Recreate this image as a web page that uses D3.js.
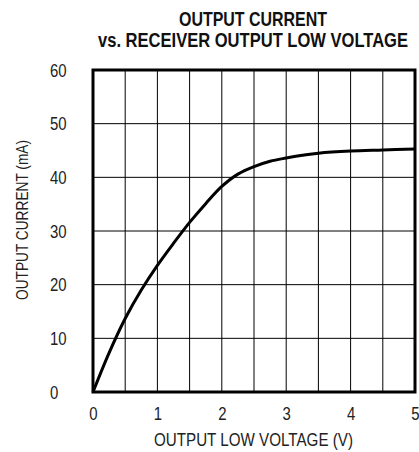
<!DOCTYPE html>
<html>
<head>
<meta charset="utf-8">
<script src="https://cdn.jsdelivr.net/npm/d3@7"></script>
<style>
  html, body { margin: 0; padding: 0; background: #fff; }
  svg { display: block; font-family: "Liberation Sans Narrow", "Arial Narrow", "Liberation Sans", sans-serif; }
  .grid line { stroke: #000; stroke-width: 1; }
  .tick text { font-size: 18px; fill: #222; }
</style>
</head>
<body>
<div id="chart"></div>
<script>
// datos (V, mA)
const voltaje = [0, 0.25, 0.5, 0.75, 1, 1.25, 1.5, 1.75, 2, 2.25, 2.5, 2.75, 3, 3.25, 3.5, 4, 4.5, 5];
const corriente = [0, 7.3, 13.7, 19, 23.6, 27.7, 31.6, 35.1, 38.3, 40.6, 42.0, 43.0, 43.6, 44.1, 44.5, 44.9, 45.1, 45.3];
const xTicks = [0, 1, 2, 3, 4, 5];
const yTicks = [0, 10, 20, 30, 40, 50, 60];
const xGrid = [0.5, 1, 1.5, 2, 2.5, 3, 3.5, 4, 4.5];
const yGrid = [10, 20, 30, 40, 50];
const titulo = ["OUTPUT CURRENT", "vs. RECEIVER OUTPUT LOW VOLTAGE"];

const W = 419, H = 452;
const margin = { top: 70, right: 4, bottom: 60, left: 93 };
const width = W - margin.left - margin.right;
const height = H - margin.top - margin.bottom;

// no hay fuente estrecha: se comprime el texto con textLength
const digito = 8.3;

const svgEl = d3.select("#chart").append("svg").attr("width", W).attr("height", H);
const svg = svgEl.append("g").attr("transform", `translate(${margin.left},${margin.top})`);

const x = d3.scaleLinear().domain([0, 5]).range([0, width]);
const y = d3.scaleLinear().domain([0, 60]).range([height, 0]);

// rejilla
const grid = svg.append("g").attr("class", "grid");
grid.selectAll(".v").data(xGrid).enter().append("line")
  .attr("x1", d => x(d)).attr("x2", d => x(d)).attr("y1", 0).attr("y2", height);
grid.selectAll(".h").data(yGrid).enter().append("line")
  .attr("y1", d => y(d)).attr("y2", d => y(d)).attr("x1", 0).attr("x2", width);

// ejes (solo etiquetas)
const xAxis = svg.append("g").attr("transform", `translate(0,${height})`)
  .call(d3.axisBottom(x).tickValues(xTicks).tickSize(0).tickPadding(0).tickFormat(d3.format("d")));
xAxis.select(".domain").remove();
xAxis.selectAll("text").attr("dy", null).attr("y", 28)
  .attr("textLength", d => String(d).length * digito).attr("lengthAdjust", "spacingAndGlyphs");

const yAxis = svg.append("g")
  .call(d3.axisLeft(y).tickValues(yTicks).tickSize(0).tickFormat(d3.format("d")));
yAxis.select(".domain").remove();
yAxis.selectAll("text").attr("text-anchor", "start").attr("x", -43).attr("dy", "0.35em")
  .attr("textLength", d => String(d).length * digito).attr("lengthAdjust", "spacingAndGlyphs");

// curva
const datos = voltaje.map((v, i) => ({ v: v, i: corriente[i] }));
svg.append("path").datum(datos)
  .attr("fill", "none").attr("stroke", "#000").attr("stroke-width", 3)
  .attr("d", d3.line().x(d => x(d.v)).y(d => y(d.i)).curve(d3.curveCatmullRom.alpha(0.5)));

// marco
svg.append("rect").attr("x", 0).attr("y", 0).attr("width", width).attr("height", height)
  .attr("fill", "none").attr("stroke", "#000").attr("stroke-width", 3);

// titulo
const anchos = [148, 310];
svgEl.selectAll(".titulo").data(titulo).enter().append("text")
  .attr("class", "titulo")
  .attr("x", 253).attr("y", (d, i) => 26 + i * 20.5).attr("text-anchor", "middle")
  .attr("font-size", 20).attr("font-weight", "bold").attr("fill", "#111")
  .attr("textLength", (d, i) => anchos[i]).attr("lengthAdjust", "spacingAndGlyphs")
  .text(d => d);

// etiquetas de ejes
svgEl.append("text").attr("x", 253.5).attr("y", 446).attr("text-anchor", "middle")
  .attr("font-size", 18).attr("fill", "#222")
  .attr("textLength", 199).attr("lengthAdjust", "spacingAndGlyphs")
  .text("OUTPUT LOW VOLTAGE (V)");
svgEl.append("text").attr("transform", "translate(28,220) rotate(-90)").attr("text-anchor", "middle")
  .attr("font-size", 17).attr("fill", "#222")
  .attr("textLength", 160).attr("lengthAdjust", "spacingAndGlyphs")
  .text("OUTPUT CURRENT (mA)");
</script>
</body>
</html>
